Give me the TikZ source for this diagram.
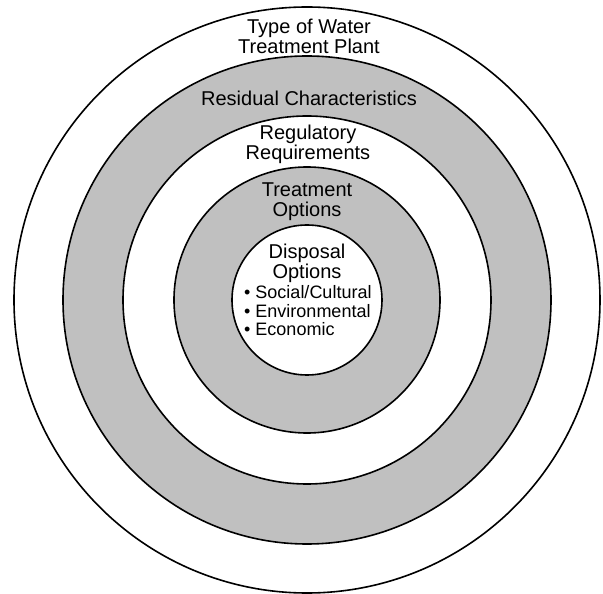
\documentclass[tikz,border=0pt]{standalone}
\usepackage{fontspec}
\setmainfont{Liberation Sans}
\usepackage{xcolor}
\usepackage{tikz}
\usetikzlibrary{positioning}
\definecolor{ringgray}{RGB}{192, 192, 192}
\tikzset{
  ring/.style={draw=black, line width=1.6pt},
  ringtext/.style={align=center, inner sep=0pt, font=\fontsize{20}{20}\selectfont},
  listtext/.style={align=left, inner sep=0pt, font=\fontsize{18}{18.5}\selectfont}
}

\begin{document}
\begin{tikzpicture}[x=1pt,y=1pt]
\useasboundingbox (-307,-294) rectangle (296,300);
\filldraw[ring, fill=white] (0,0) circle (293);
\filldraw[ring, fill=ringgray] (0,0) circle (244);
\filldraw[ring, fill=white] (0,0) circle (184);
\filldraw[ring, fill=ringgray] (0,0) circle (133);
\filldraw[ring, fill=white] (0,0) circle (75);
\node[ringtext] (plant) at (2,263.5) {Type of Water\\Treatment Plant};
\node[ringtext] (residual) at (2,202) {Residual Characteristics};
\node[ringtext] (regulatory) at (1,156) {Regulatory\\Requirements};
\node[ringtext] (treatment) at (0,98) {Treatment\\Options};
\node[ringtext] (disposal) at (0,37) {Disposal\\Options};
\node[listtext, anchor=west] (factors) at (-63,-11) {\textbullet\ Social/Cultural\\\textbullet\ Environmental\\\textbullet\ Economic};
\end{tikzpicture}
\end{document}
